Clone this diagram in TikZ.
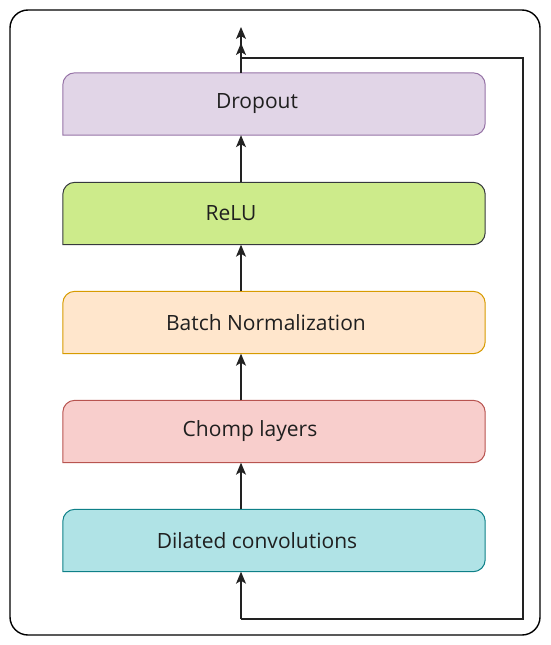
\documentclass[tikz,border=0pt]{standalone}
\usepackage{fontspec}
\setmainfont{Open Sans}
\usepackage{tikz}
\usetikzlibrary{arrows.meta,positioning,calc}
\definecolor{textdark}{HTML}{1F1F1F}
\definecolor{arrowdark}{HTML}{222222}
\definecolor{dropfill}{HTML}{E1D5E7}
\definecolor{dropline}{HTML}{9673A6}
\definecolor{relufill}{HTML}{CDEB8B}
\definecolor{reluline}{HTML}{36393D}
\definecolor{bnfill}{HTML}{FFE6CC}
\definecolor{bnline}{HTML}{D79B00}
\definecolor{chompfill}{HTML}{F8CECC}
\definecolor{chompline}{HTML}{B85450}
\definecolor{dilfill}{HTML}{B0E3E6}
\definecolor{dilline}{HTML}{0E8088}
\tikzset{
  layer/.style={minimum width=422pt, minimum height=62pt, inner sep=0pt},
  layertext/.style={font=\fontsize{21}{24}\selectfont, text=textdark},
  arrow/.style={-{Stealth[length=12pt,width=10pt,inset=3pt]}, line width=1.1pt, draw=arrowdark},
  skiparrow/.style={arrow, line width=1.4pt},
  frame/.style={draw=black, line width=1.4pt, rounded corners=18pt}
}
% outline of a layer: rounded, except the lower left corner
\newcommand{\layerbox}[3]{%
  \draw[fill=#2, draw=#3, line width=1pt, rounded corners=12pt]
    (#1.south) -- (#1.south east) -- (#1.north east) -- (#1.north west) -- (#1.west)
    [sharp corners] -- (#1.south west) -- cycle;}

\begin{document}
\begin{tikzpicture}[x=1pt,y=-1pt]
  \useasboundingbox (0,0) rectangle (550,645);
  \draw[frame] (10,10) rectangle (540,635);

  \foreach \name/\ypos/\fillc/\drawc/\dx/\txt in {
      drop/104/dropfill/dropline/-17/Dropout,
      relu/213.5/relufill/reluline/-43/ReLU,
      bn/322.5/bnfill/bnline/-8/Batch Normalization,
      chomp/431.5/chompfill/chompline/-24/Chomp layers,
      dil/540.5/dilfill/dilline/-17/Dilated convolutions} {
    \node[layer] (\name) at (274,\ypos) {};
    \layerbox{\name}{\fillc}{\drawc}
    \node[layertext] (\name-txt) at ($(\name.center)+(\dx,0)$) {\txt};
  }

  \coordinate (in) at (241,619);
  \coordinate (out) at (241,27);
  \coordinate (skipcorner) at (523,58);
  \coordinate (skipout) at (241,43);

  % main path
  \draw[arrow] (in) -- (dil.south -| in);
  \draw[arrow] (dil.north -| in) -- (chomp.south -| in);
  \draw[arrow] (chomp.north -| in) -- (bn.south -| in);
  \draw[arrow] (bn.north -| in) -- (relu.south -| in);
  \draw[arrow] (relu.north -| in) -- (drop.south -| in);
  \draw[arrow] (drop.north -| in) -- (out);

  % residual connection
  \draw[skiparrow] (in) -| (skipcorner) -| (skipout);
\end{tikzpicture}
\end{document}
